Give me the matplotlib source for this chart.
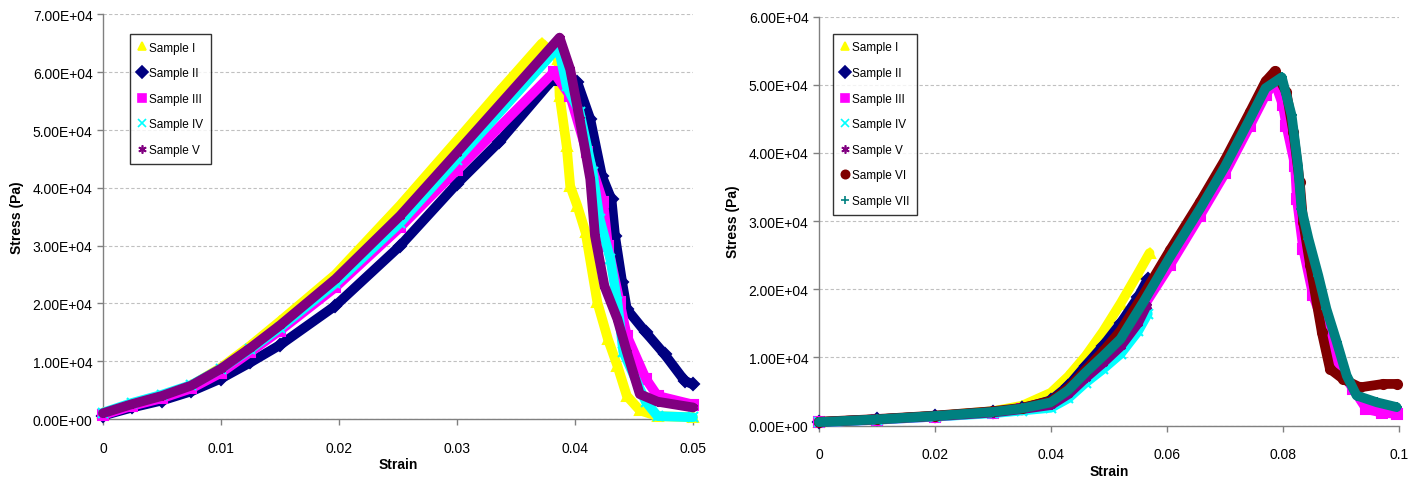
import matplotlib
matplotlib.use("Agg")
import matplotlib.pyplot as plt
from matplotlib.lines import Line2D
from matplotlib.ticker import FuncFormatter

plt.rcParams['font.family'] = ['Liberation Sans', 'DejaVu Sans']

# ---- Left panel: five samples ----
left_labels = ["Sample I", "Sample II", "Sample III", "Sample IV", "Sample V"]

left_s1 = [0, 0.0025, 0.005, 0.0075, 0.01, 0.0125, 0.015, 0.0197, 0.0252, 0.03, 0.0336, 0.0372,
           0.0386, 0.0387, 0.0393, 0.0396, 0.0402, 0.0409, 0.0419, 0.0428, 0.0436, 0.0444, 0.0455, 0.047, 0.05]
left_p1 = [1000, 2600, 4000, 5800, 8900, 12700, 16900, 25000, 37000, 48200, 56700, 65000,
           62300, 55900, 47200, 40300, 36900, 32300, 20200, 13800, 9200, 4000, 1500, 500, 300]

left_s2 = [0, 0.0025, 0.005, 0.0075, 0.01, 0.0125, 0.015, 0.0197, 0.0252, 0.03, 0.0336, 0.038,
           0.0402, 0.0413, 0.0423, 0.0431, 0.0434, 0.044, 0.0444, 0.046, 0.0476, 0.0493, 0.05]
left_p2 = [600, 2000, 3200, 4800, 7000, 9800, 12800, 19600, 30000, 40700, 48000, 58500,
           58300, 51900, 42000, 38000, 31700, 23700, 19000, 15000, 11200, 6600, 6000]

left_s3 = [0, 0.0025, 0.005, 0.0075, 0.01, 0.0125, 0.015, 0.0197, 0.0252, 0.03, 0.0382,
           0.0396, 0.041, 0.0424, 0.0428, 0.0438, 0.0444, 0.046, 0.047, 0.05]
left_p3 = [700, 2300, 3600, 5300, 8000, 11600, 15300, 22800, 33200, 43100, 60000,
           55900, 46200, 37500, 29900, 20200, 14400, 7000, 4000, 2500]

left_s4 = [0, 0.0025, 0.005, 0.0075, 0.01, 0.0125, 0.015, 0.0197, 0.0252, 0.03, 0.0386,
           0.0393, 0.0404, 0.0415, 0.0421, 0.043, 0.0436, 0.0441, 0.046, 0.047, 0.05]
left_p4 = [1100, 2800, 4200, 5900, 8700, 12100, 15800, 23500, 34000, 44900, 64400,
           57600, 53100, 42700, 34600, 27700, 20200, 11600, 3000, 500, 300]

left_s5 = [0, 0.0025, 0.005, 0.0075, 0.01, 0.0125, 0.015, 0.0197, 0.0252, 0.03, 0.0387,
           0.0396, 0.0404, 0.0413, 0.0417, 0.0425, 0.0436, 0.0444, 0.0455, 0.047, 0.05]
left_p5 = [1000, 2600, 4000, 5800, 8700, 12300, 16200, 24200, 35200, 46100, 66000,
           60500, 51900, 41500, 31700, 23000, 17300, 11600, 4300, 3000, 2000]

# ---- Right panel: seven samples ----
right_labels = ["Sample I", "Sample II", "Sample III", "Sample IV", "Sample V", "Sample VI", "Sample VII"]

right_s1 = [0, 0.01, 0.02, 0.03, 0.035, 0.04, 0.043, 0.046, 0.049, 0.052, 0.055, 0.057]
right_p1 = [500, 900, 1400, 2100, 2900, 4800, 7200, 10200, 13800, 17900, 22300, 25300]

right_s2 = [0, 0.01, 0.02, 0.03, 0.035, 0.04, 0.043, 0.046, 0.049, 0.052, 0.055, 0.0567]
right_p2 = [500, 900, 1400, 2000, 2500, 3700, 5800, 8800, 11700, 15000, 18800, 21500]

right_s3 = [0, 0.01, 0.02, 0.03, 0.035, 0.04, 0.043, 0.046, 0.049, 0.052, 0.056, 0.0605, 0.0657,
            0.07, 0.0743, 0.077, 0.0786, 0.08, 0.0806, 0.0821, 0.0824, 0.0835, 0.0852, 0.0875,
            0.0893, 0.0921, 0.0944, 0.097, 0.0996]
right_p3 = [450, 850, 1300, 1900, 2400, 3200, 4800, 7200, 9800, 12700, 17500, 23500, 30800,
            37000, 44000, 48500, 50400, 47000, 44000, 38100, 33300, 25900, 19100, 13700,
            8800, 5400, 2400, 1900, 1700]

right_s4 = [0, 0.01, 0.02, 0.03, 0.035, 0.04, 0.043, 0.046, 0.049, 0.052, 0.055, 0.0567]
right_p4 = [450, 850, 1300, 1800, 2200, 2600, 4000, 6300, 8300, 10500, 13800, 16400]

right_s5 = [0, 0.01, 0.02, 0.03, 0.035, 0.04, 0.043, 0.046, 0.049, 0.052, 0.055, 0.0565]
right_p5 = [500, 900, 1350, 1900, 2400, 3000, 4600, 7000, 9200, 11600, 15000, 17600]

right_s6 = [0, 0.01, 0.02, 0.03, 0.035, 0.04, 0.043, 0.046, 0.049, 0.052, 0.056, 0.0605, 0.0657,
            0.07, 0.0743, 0.077, 0.0786, 0.0806, 0.0818, 0.0829, 0.0835, 0.0847, 0.0858, 0.0867,
            0.0881, 0.0904, 0.0933, 0.0973, 0.0996]
right_p6 = [550, 950, 1450, 2100, 2600, 3600, 5500, 8200, 10900, 13900, 19300, 25700, 32800,
            39000, 46000, 50500, 52000, 48900, 43000, 35700, 29800, 23500, 18100, 13700,
            8300, 6800, 5600, 6100, 6100]

right_s7 = [0, 0.01, 0.02, 0.03, 0.035, 0.04, 0.043, 0.046, 0.049, 0.052, 0.056, 0.0605, 0.0657,
            0.07, 0.0743, 0.077, 0.0798, 0.0815, 0.0826, 0.0832, 0.0844, 0.0861, 0.0875, 0.0893,
            0.091, 0.0927, 0.0962, 0.0996]
right_p7 = [500, 900, 1400, 2000, 2500, 3400, 5200, 7800, 10200, 12700, 18200, 24700, 31800,
            38000, 45000, 49500, 51100, 45500, 38100, 31800, 27400, 22000, 17100, 12200,
            7300, 4400, 3400, 2700]

left_xticks = [0, 0.01, 0.02, 0.03, 0.04, 0.05]
left_xticklabels = ["0", "0.01", "0.02", "0.03", "0.04", "0.05"]
right_xticks = [0, 0.02, 0.04, 0.06, 0.08, 0.1]
right_xticklabels = ["0", "0.02", "0.04", "0.06", "0.08", "0.1"]

# marker styling per sample (Excel-like)
styles = [
    dict(color="#FFFF00", marker="^"),
    dict(color="#000080", marker="D"),
    dict(color="#FF00FF", marker="s"),
    dict(color="#00FFFF", marker="x"),
    dict(color="#800080", marker=(6, 2, 0)),
    dict(color="#800000", marker="o"),
    dict(color="#008080", marker="+"),
]

fig = plt.figure(figsize=(14.24, 4.81), dpi=100)
ax1 = fig.add_axes([0.0723, 0.1268, 0.4143, 0.8410])
ax2 = fig.add_axes([0.5751, 0.1133, 0.4073, 0.8500])

grey = "#808080"


def style_axes(ax, xmax, ymax, ystep, xticks, xticklabels):
    ax.set_xlim(0, xmax)
    ax.set_ylim(0, ymax)
    ax.set_yticks([i * ystep for i in range(int(round(ymax / ystep)) + 1)])
    ax.yaxis.set_major_formatter(FuncFormatter(lambda v, p: f"{v:.2E}"))
    ax.set_xticks(xticks)
    ax.set_xticklabels(xticklabels)
    for side in ("top", "right"):
        ax.spines[side].set_visible(False)
    for side in ("left", "bottom"):
        ax.spines[side].set_color(grey)
        ax.spines[side].set_linewidth(1.0)
    ax.tick_params(axis="both", direction="out", length=4, width=1.0, color=grey,
                   labelsize=10, labelcolor="black")
    ax.tick_params(axis="x", pad=11.5)
    ax.grid(axis="y", color="#c0c0c0", linestyle=(0, (3, 2)), linewidth=0.8)
    ax.set_axisbelow(True)
    ax.set_xlabel("Strain", fontsize=10, fontweight="bold", labelpad=2)
    ax.set_ylabel("Stress (Pa)", fontsize=10, fontweight="bold", labelpad=6)


def draw_series(ax, xs, ys, st):
    ax.plot(xs, ys, color=st["color"], linewidth=7, solid_capstyle="round",
            solid_joinstyle="round", zorder=3)
    ax.plot(xs, ys, linestyle="none", marker=st["marker"], markersize=6.5,
            color=st["color"], markeredgecolor=st["color"], markeredgewidth=1.5, zorder=3)


def add_legend(ax, labels, anchor):
    handles = []
    for lab, st in zip(labels, styles):
        handles.append(Line2D([], [], linestyle="none", marker=st["marker"], markersize=6,
                              color=st["color"], markeredgecolor=st["color"],
                              markeredgewidth=1.2, label=lab))
    leg = ax.legend(handles=handles, loc="upper left", bbox_to_anchor=anchor,
                    borderaxespad=0, frameon=True, fancybox=False, shadow=False,
                    fontsize=8.5, handlelength=0.8, handletextpad=0.2,
                    labelspacing=1.15, borderpad=0.65)
    leg.get_frame().set_edgecolor("black")
    leg.get_frame().set_linewidth(1.0)


left_series = [(left_s1, left_p1), (left_s2, left_p2), (left_s3, left_p3),
               (left_s4, left_p4), (left_s5, left_p5)]
right_series = [(right_s1, right_p1), (right_s2, right_p2), (right_s3, right_p3),
                (right_s4, right_p4), (right_s5, right_p5), (right_s6, right_p6),
                (right_s7, right_p7)]

style_axes(ax1, 0.05, 70000, 10000, left_xticks, left_xticklabels)
for (xs, ys), st in zip(left_series, styles):
    draw_series(ax1, xs, ys, st)
add_legend(ax1, left_labels, (0.0458, 0.952))

style_axes(ax2, 0.1, 60000, 10000, right_xticks, right_xticklabels)
for (xs, ys), st in zip(right_series, styles):
    draw_series(ax2, xs, ys, st)
add_legend(ax2, right_labels, (0.024, 0.958))

for ax in (ax1, ax2):
    for line in ax.lines:
        line.set_clip_on(False)

fig.savefig("out.png", dpi=100, facecolor="white")
